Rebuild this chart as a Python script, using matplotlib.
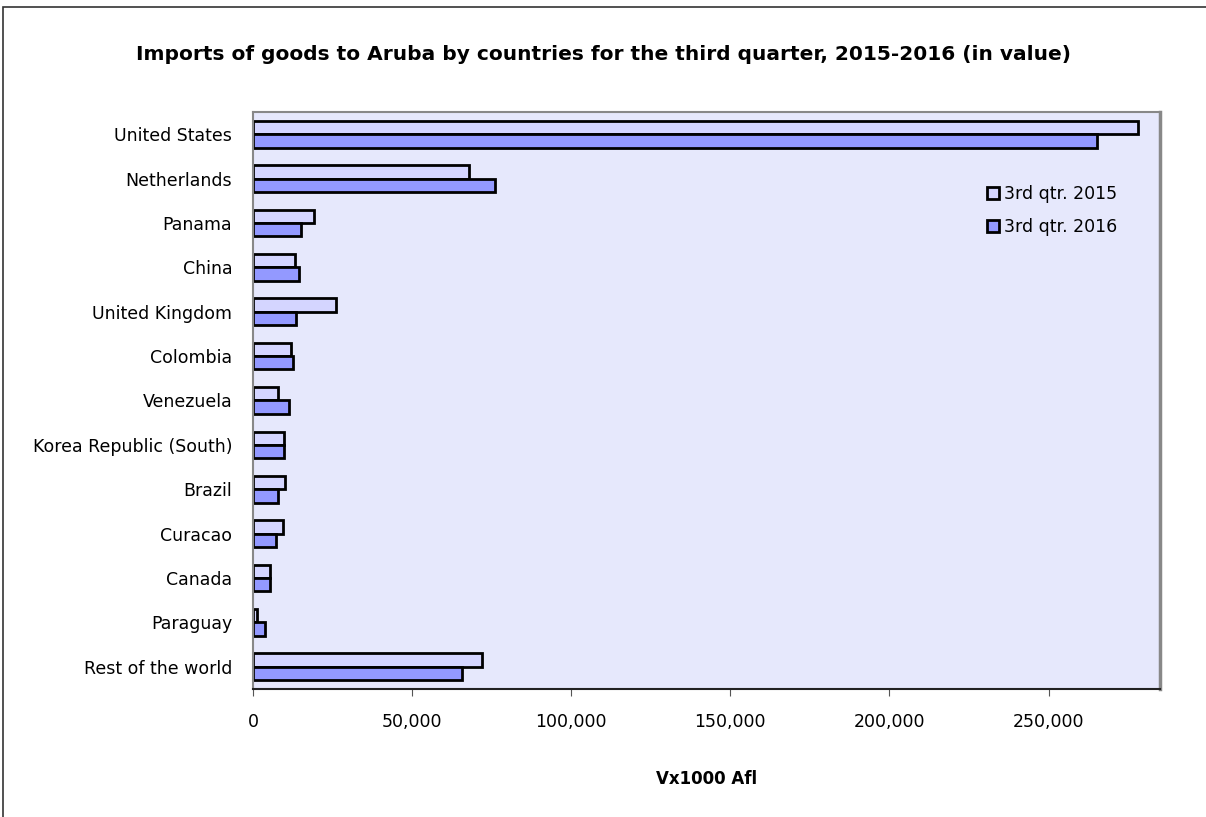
import matplotlib
matplotlib.use("Agg")
import matplotlib.pyplot as plt
import matplotlib.ticker as mticker
from matplotlib.patches import Rectangle
import numpy as np

# === data ===
countries = ["United States", "Netherlands", "Panama", "China", "United Kingdom",
             "Colombia", "Venezuela", "Korea Republic (South)", "Brazil", "Curacao",
             "Canada", "Paraguay", "Rest of the world"]
q3_2015 = [278000, 68000, 19200, 13200, 26000, 12000, 8000, 9700, 10100, 9300, 5400, 1100, 72000]
q3_2016 = [265300, 76000, 15100, 14500, 13500, 12700, 11400, 9700, 7700, 7200, 5400, 3900, 65600]
series_labels = ["3rd qtr. 2015", "3rd qtr. 2016"]

# === style ===
C_2015 = "#D4D5FF"
C_2016 = "#9399FF"
C_BG = "#E6E8FC"
BAR_H = 0.3

fig = plt.figure(figsize=(12.06, 8.17), dpi=100)
ax = fig.add_axes([253 / 1206, 1 - 689 / 817, (1160 - 253) / 1206, (689 - 112) / 817])
ax.set_facecolor(C_BG)

y = np.arange(len(countries))
ax.barh(y - BAR_H / 2, q3_2015, height=BAR_H, color=C_2015, edgecolor="black",
        linewidth=2, label=series_labels[0])
ax.barh(y + BAR_H / 2, q3_2016, height=BAR_H, color=C_2016, edgecolor="black",
        linewidth=2, label=series_labels[1])

ax.set_ylim(len(countries) - 0.5, -0.5)
ax.set_xlim(0, 285000)
ax.set_yticks(y)
ax.set_yticklabels(countries, fontsize=12.5)
ax.tick_params(axis="y", length=0, pad=15)
ax.xaxis.set_major_locator(mticker.MultipleLocator(50000))
ax.xaxis.set_major_formatter(mticker.FuncFormatter(lambda v, p: f"{int(v):,}"))
ax.tick_params(axis="x", labelsize=12.5, length=5, color="#555555", pad=12)

for side in ["top", "left"]:
    ax.spines[side].set_color("#888888")
    ax.spines[side].set_linewidth(1.5)
ax.spines["right"].set_color("#888888")
ax.spines["right"].set_linewidth(2.5)
ax.spines["bottom"].set_color("#222222")
ax.spines["bottom"].set_linewidth(1.5)

ax.set_xlabel("Vx1000 Afl", fontsize=12, fontweight="bold", labelpad=28)

leg = ax.legend(loc="upper right", bbox_to_anchor=(0.97, 0.90), frameon=False,
                fontsize=12.5, handlelength=0.7, handleheight=0.7, handletextpad=0.3,
                labelspacing=0.85)

fig.text(0.5, 1 - 55 / 817, "Imports of goods to Aruba by countries for the third quarter, 2015-2016 (in value)",
         ha="center", va="center", fontsize=14.5, fontweight="bold", family="DejaVu Sans")

# outer chart frame
fig.patches.append(Rectangle((3 / 1206, -0.05), 1.2, 1 - 7 / 817 + 0.05,
                             transform=fig.transFigure, fill=False,
                             edgecolor="#333333", linewidth=1.2))

fig.savefig("out.png", dpi=100)
